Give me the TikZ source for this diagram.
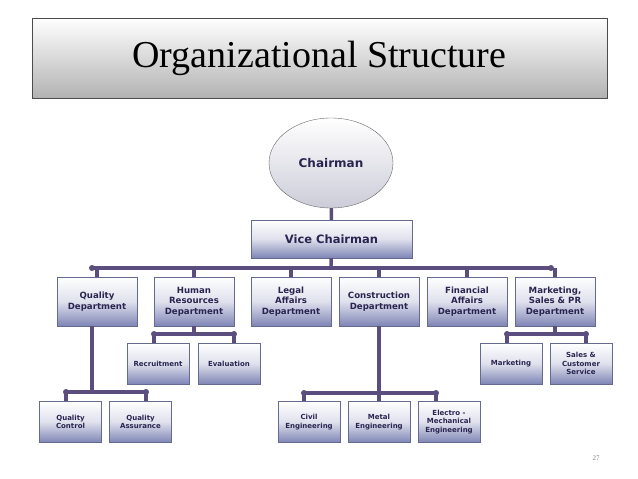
\documentclass[tikz,border=0pt]{standalone}
\usepackage{fontspec}
\setmainfont{Liberation Serif}
\newfontfamily\dv{DejaVu Sans}
\usetikzlibrary{shapes.geometric}
\definecolor{ln}{HTML}{5B4E7E}
\definecolor{bx}{HTML}{7E85B5}
\definecolor{tx}{HTML}{2A2550}
\begin{document}
\begin{tikzpicture}[x=1pt,y=-1pt,
 box/.style={draw=bx!80!black,line width=0.4pt,top color=white,bottom color=bx,middle color=bx!25,inner sep=0pt,align=center,font=\dv\bfseries\fontsize{8.6}{10.5}\selectfont,text=tx},
 sbox/.style={box,font=\dv\bfseries\fontsize{7}{8.4}\selectfont},
 cn/.style={ln,line width=3.4pt},
 dot/.style={circle,fill=ln,inner sep=0pt,minimum size=6pt}]
\useasboundingbox (0,0) rectangle (638,479);
\node[draw=black!70,line width=0.8pt,top color=white,bottom color=black!30,minimum width=575pt,minimum height=80pt,font=\fontsize{38}{44}\selectfont] (title) at (319.5,58) {Organizational Structure};
\node[ellipse,draw=black!60,top color=white,bottom color=blue!25!black!20,minimum width=124pt,minimum height=90pt,font=\dv\bfseries\fontsize{12}{14}\selectfont,text=tx] (ch) at (331,163) {Chairman};
\node[box,minimum width=161pt,minimum height=38pt,font=\dv\bfseries\fontsize{11.5}{14}\selectfont] (vc) at (331.5,239) {Vice Chairman};
\foreach \n/\x/\t in {q/97/{Quality\\Department},hr/194/{Human\\Resources\\Department},la/291/{Legal\\Affairs\\Department},cd/379/{Construction\\Department},fa/467/{Financial\\Affairs\\Department},mk/555/{Marketing,\\Sales \& PR\\Department}}
  \node[box,minimum width=80pt,minimum height=49pt] (\n) at (\x,301.5) {\t};
\foreach \n/\x/\y/\t in {rc/158/363.5/Recruitment,ev/229/363.5/Evaluation,mkt/511/363.5/Marketing,sc/581/363.5/{Sales \&\\Customer\\Service},qc/70.5/422/{Quality\\Control},qa/140.5/422/{Quality\\Assurance},ce/309/422/{Civil\\Engineering},me/379/422/{Metal\\Engineering},em/449/422/{Electro -\\Mechanical\\Engineering}}
  \node[sbox,minimum width=62pt,minimum height=41pt] (\n) at (\x,\y) {\t};
\coordinate (b1) at (331,268);
\draw[cn] (ch) -- (vc);
\draw[cn] (vc) -- (b1);
\draw[cn] (92,268) -- (551,268);
\foreach \n in {q,hr,la,cd,fa,mk} \draw[cn] (\n.north|-b1) -- (\n.north);
\node[dot] at (92,268) {}; \node[dot] at (551,268) {};
% HR
\draw[cn] (hr.south) -- (hr.south|-0,334);
\draw[cn] (154,334) -- (234,334);
\draw[cn] (154,334) -- (154,343); \draw[cn] (234,334) -- (234,343);
\node[dot] at (154,334) {}; \node[dot] at (234,334) {};
% Marketing
\draw[cn] (mk.south) -- (mk.south|-0,334);
\draw[cn] (507,334) -- (586,334);
\draw[cn] (507,334) -- (507,343); \draw[cn] (586,334) -- (586,343);
\node[dot] at (507,334) {}; \node[dot] at (586,334) {};
% Quality
\draw[cn] (92,326) -- (92,392);
\draw[cn] (66,392) -- (146,392);
\draw[cn] (66,392) -- (66,401); \draw[cn] (146,392) -- (146,401);
\node[dot] at (66,392) {}; \node[dot] at (146,392) {};
% Construction
\draw[cn] (cd.south) -- (cd.south|-0,393);
\draw[cn] (304,393) -- (436,393);
\draw[cn] (304,393) -- (304,401); \draw[cn] (436,393) -- (436,401); \draw[cn] (379,393) -- (me.north);
\node[dot] at (304,393) {}; \node[dot] at (436,393) {};
\node[font=\fontsize{7}{8}\selectfont,text=black!50] (pg) at (596,458) {27};
\end{tikzpicture}
\end{document}
